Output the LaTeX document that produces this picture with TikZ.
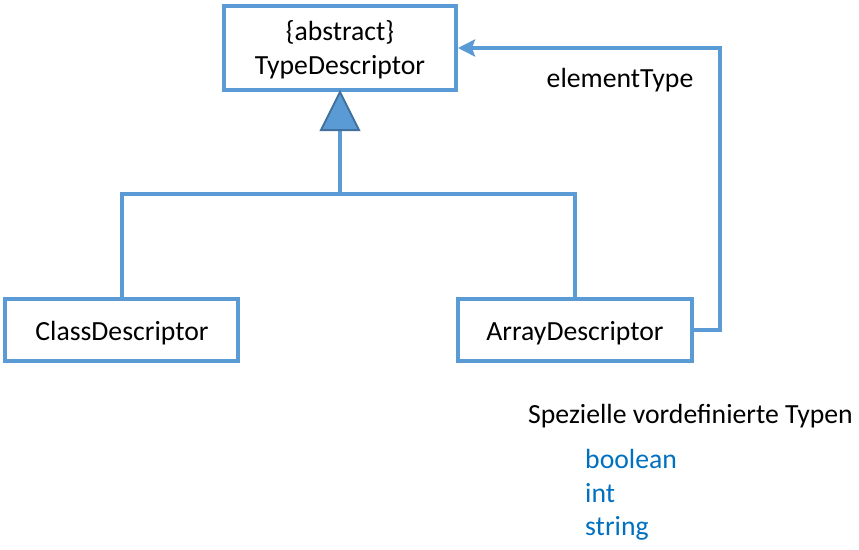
\documentclass[tikz,border=0pt]{standalone}
\usepackage{fontspec}
\setmainfont{Carlito}
\usetikzlibrary{arrows.meta}
\definecolor{umlline}{HTML}{5B9BD5}
\definecolor{umldark}{HTML}{41719C}
\definecolor{typeblue}{HTML}{0070C0}
\tikzset{
  classbox/.style={draw=umlline, line width=4pt, fill=white, rectangle, inner sep=0pt, align=center, font=\fontsize{27.7}{34}\selectfont},
  conn/.style={draw=umlline, line width=4pt},
  lbl/.style={inner sep=0pt, font=\fontsize{27.7}{34}\selectfont},
  typelbl/.style={lbl, text=typeblue, anchor=base west}
}
\begin{document}
\begin{tikzpicture}[x=1pt,y=-1pt]
\useasboundingbox (0,0) rectangle (859,549);
\node[classbox, minimum width=232pt, minimum height=84pt] (td) at (340,48) {};
\node[lbl, anchor=base] (tda) at (340,40) {\{abstract\}};
\node[lbl, anchor=base] (tdn) at (340,74) {TypeDescriptor};
\node[classbox, minimum width=233pt, minimum height=62pt] (cd) at (121.5,330) {};
\node[lbl, anchor=base] (cdn) at (122,340) {ClassDescriptor};
\node[classbox, minimum width=234pt, minimum height=62pt] (ad) at (575,330) {};
\node[lbl, anchor=base] (adn) at (575,340) {ArrayDescriptor};
% generalization
\coordinate (tribase) at (340,130);
\coordinate (join) at (340,194);
\draw[conn] (tribase) -- (join);
\draw[conn, line join=miter] (cd.north) |- (join) -| (ad.north);
\draw[fill=umlline, draw=umldark, line width=2pt, line join=miter] (td.south) -- (321,130) -- (359,130) -- cycle;
% association
\coordinate (c1) at (720,330);
\coordinate (c2) at (720,48);
\draw[conn, line join=miter, -{Stealth[length=17pt,width=17pt,inset=3pt]}] (ad.east) -- (c1) -- (c2) -- (td.east);
\node[lbl, anchor=base] (et) at (620,87) {elementType};
% special types
\node[lbl, anchor=base west] (sp) at (528,423) {Spezielle vordefinierte Typen};
\node[typelbl] (tb) at (585,468) {boolean};
\node[typelbl] (ti) at (585,502) {int};
\node[typelbl] (ts) at (585,535) {string};
\end{tikzpicture}
\end{document}
